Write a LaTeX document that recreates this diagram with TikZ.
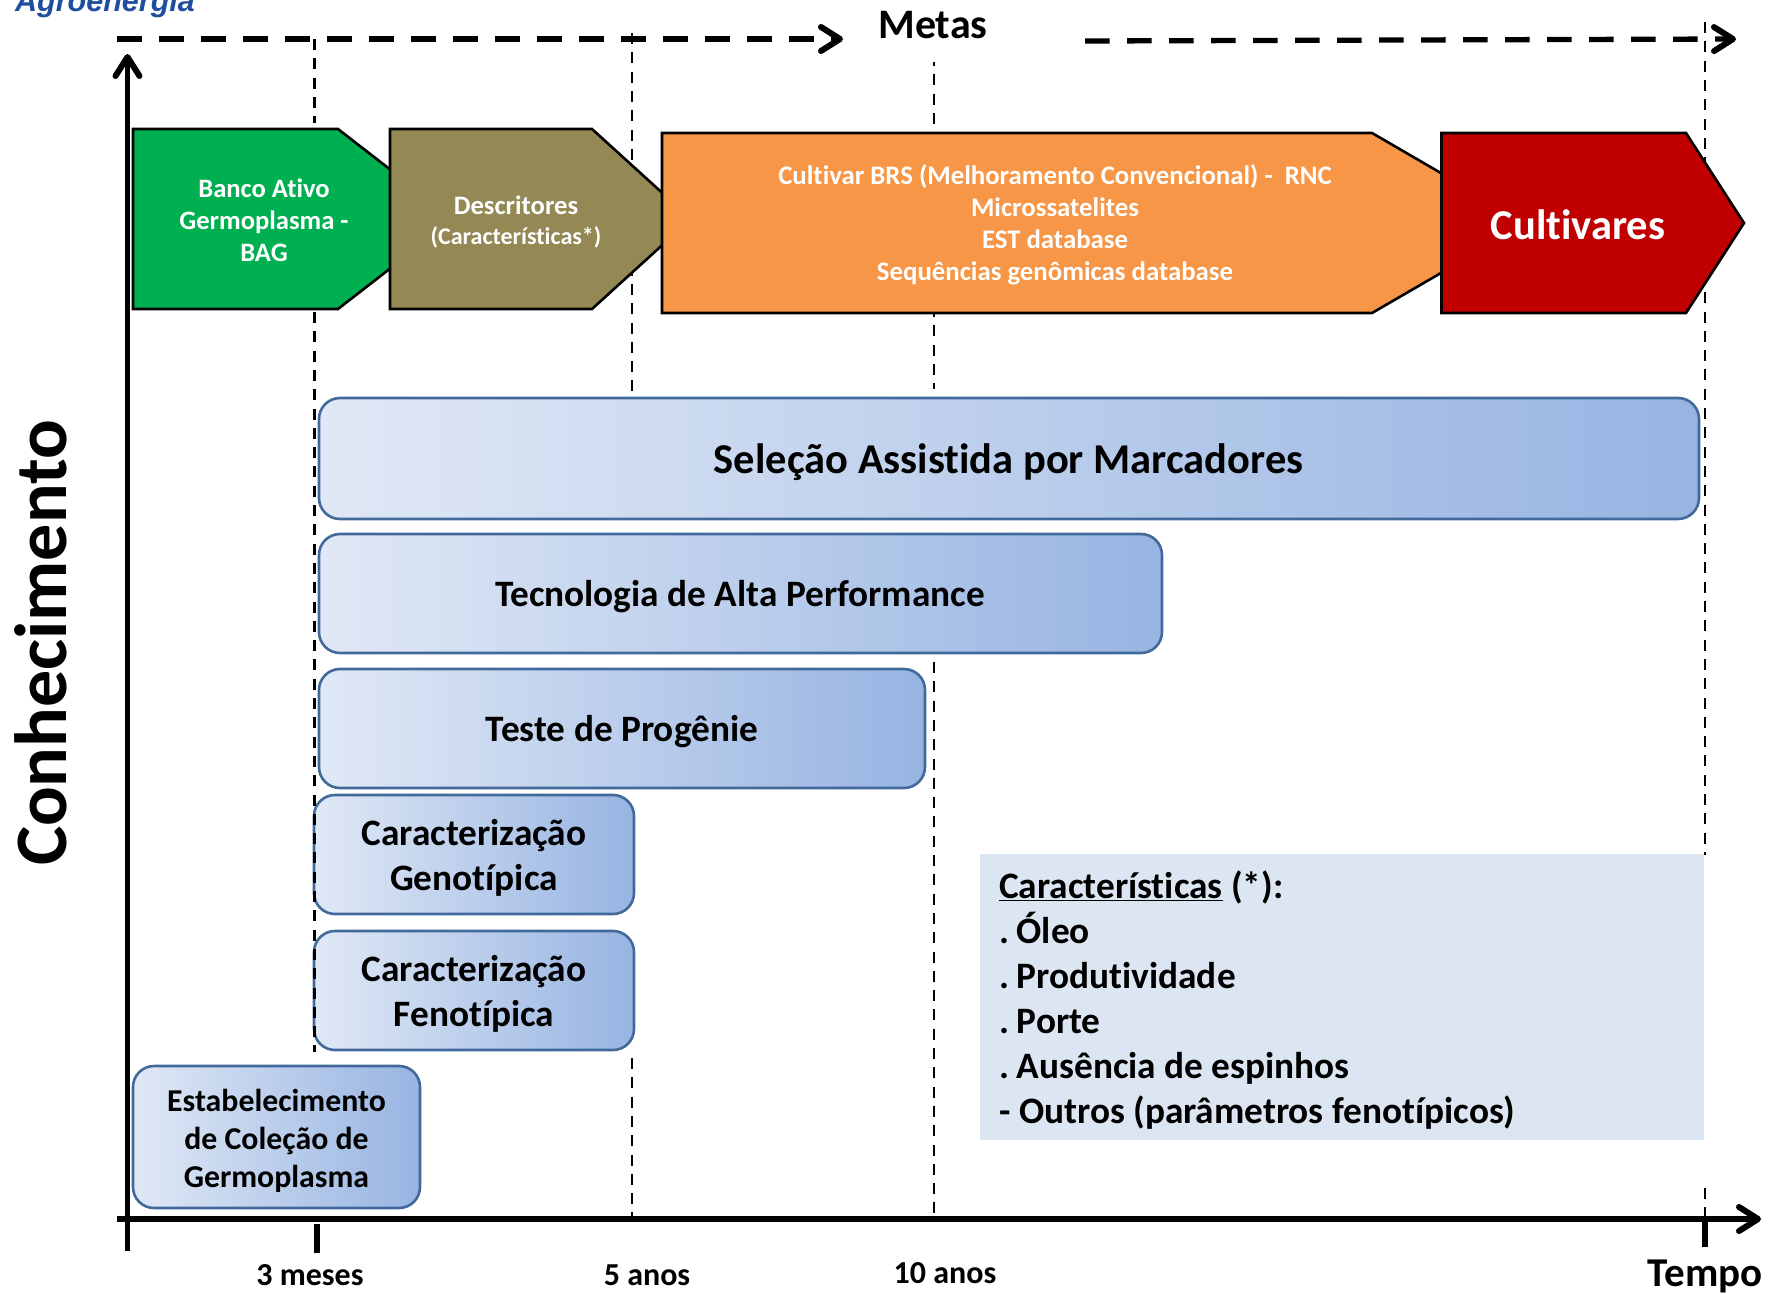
\documentclass[tikz,border=0pt]{standalone}
\usepackage{fontspec}
\setmainfont[Ligatures=NoCommon]{Carlito}
\newfontfamily\logofont{Liberation Sans}
\usetikzlibrary{arrows.meta,shadings}
\definecolor{bandborder}{HTML}{41699B}
\definecolor{gradL}{HTML}{E0E8F5}
\definecolor{gradR}{HTML}{97B4E2}
\definecolor{notefill}{HTML}{DCE6F2}
\definecolor{logoblue}{HTML}{1F4E9E}
\definecolor{penGreen}{RGB}{0,176,80}
\definecolor{penOlive}{RGB}{148,137,84}
\definecolor{penOrange}{RGB}{247,150,70}
\definecolor{penRed}{RGB}{192,0,0}
\newcommand{\fs}[2]{\fontsize{#1}{#2}\selectfont\bfseries}
\newcommand{\dotsp}{.\kern-0.8pt\ }
\tikzset{
  x=1pt,y=-1pt,
  vdash/.style={black,line width=2.6pt,dash pattern=on 11pt off 8.3pt},
  hdash/.style={black,line width=5.3pt,dash pattern=on 24.5pt off 17.5pt,-{Straight Barb[length=19pt,width=24pt,line width=6pt,round]}},
  axisline/.style={black,line width=5.5pt},
  axisarrow/.style={axisline,-{Straight Barb[length=19pt,width=24pt,line width=6pt,round]}},
  penta/.style={draw=black,line width=2.6pt,line join=miter},
  band/.style={draw=bandborder,line width=2.6pt,rounded corners=21pt,left color=gradL,right color=gradR,shading angle=90},
  bandtext/.style={align=center,text=black,inner sep=0pt},
  pentatext/.style={align=center,text=white,inner sep=0pt},
  ticklabel/.style={text=black,inner sep=0pt},
}
\begin{document}
\begin{tikzpicture}
\useasboundingbox (0,0) rectangle (1769,1293);
% logo remnant
\node[inner sep=0pt,anchor=base west,text=logoblue] (logo) at (15,11) {\logofont\fontsize{30.5}{34}\selectfont\bfseries\itshape Agroenergia};
% guide lines
\coordinate (g1a) at (314.5,39); \coordinate (g1b) at (314.5,123);
\coordinate (g1c) at (314.5,312); \coordinate (g1d) at (314.5,1052);
\coordinate (g2a) at (632,33); \coordinate (g2b) at (632,398);
\coordinate (g2c) at (632,1058); \coordinate (g2d) at (632,1217);
\coordinate (g3a) at (934,62); \coordinate (g3b) at (934,389);
\coordinate (g3c) at (934,662); \coordinate (g3d) at (934,1217);
\coordinate (g4a) at (1705,22); \coordinate (g4b) at (1705,855);
\coordinate (g4c) at (1705,1188); \coordinate (g4d) at (1705,1217);
\draw[vdash] (g2a) -- (g2b);
\draw[vdash] (g2c) -- (g2d);
\draw[vdash,dash phase=7pt] (g3a) -- (g3b);
\draw[vdash] (g3c) -- (g3d);
\draw[vdash] (g4a) -- (g4b);
\draw[vdash] (g4c) -- (g4d);
% axes
\coordinate (xs) at (117,1219); \coordinate (xe) at (1761,1219);
\coordinate (ys) at (127.5,1251); \coordinate (ye) at (127.5,54);
\draw[axisarrow] (ys) -- (ye);
\draw[axisarrow] (xs) -- (xe);
\coordinate (t1a) at (317,1224); \coordinate (t1b) at (317,1253);
\coordinate (t2a) at (1705,1216); \coordinate (t2b) at (1705,1247);
\draw[axisline] (t1a) -- (t1b);
\draw[axisline] (t2a) -- (t2b);
% top dashed arrows
\coordinate (m1a) at (117,39); \coordinate (m1b) at (843,39);
\coordinate (m2a) at (1085,41); \coordinate (m2b) at (1736,39);
\draw[hdash] (m1a) -- (m1b);
\draw[hdash] (m2a) -- (m2b);
\node[ticklabel,font=\fs{42}{50}] (metas) at (933,25) {Metas};
% pentagons
\draw[penta,fill=penGreen] (133,129) -- (338,129) -- (454,219) -- (338,309) -- (133,309) -- cycle;
\draw[penta,fill=penOlive] (390,129) -- (592,129) -- (691,219) -- (592,309) -- (390,309) -- cycle;
\draw[penta,fill=penOrange] (662,133) -- (1372,133) -- (1527,223) -- (1372,313) -- (662,313) -- cycle;
\draw[penta,fill=penRed] (1441.5,133) -- (1686,133) -- (1744,223) -- (1686,313) -- (1441.5,313) -- cycle;
\node[pentatext,font=\fs{26.6}{32}] (bag) at (264,220) {Banco Ativo\\Germoplasma -\\BAG};
\node[pentatext,font=\fs{26.6}{30}] (desc) at (516,222) {Descritores\\{\fontsize{24}{30}\selectfont (Características*)}};
\node[pentatext,font=\fs{26.8}{32}] (conv) at (1055,225) {Cultivar BRS (Melhoramento Convencional) -\ \ RNC\\Microssatelites\\EST database\\Sequências genômicas database};
\node[pentatext,font=\fs{42.5}{50}] (cult) at (1578,225) {Cultivares};
% bands
\node[band,minimum width=1380pt,minimum height=121pt] (sel) at (1009,458.5) {};
\node[band,minimum width=843pt,minimum height=119pt] (tec) at (740.5,593.5) {};
\node[band,minimum width=606pt,minimum height=119pt] (tes) at (622,728.5) {};
\node[band,minimum width=320pt,minimum height=119pt] (gen) at (474,854.5) {};
\node[band,minimum width=320pt,minimum height=119pt] (fen) at (474,990.5) {};
\node[band,minimum width=287pt,minimum height=142pt] (est) at (276.5,1137) {};
\draw[vdash] (g1a) -- (g1b);
\draw[vdash] (g1c) -- (g1d);
\node[bandtext,font=\fs{42.5}{50}] (selT) at (1008.5,462) {Seleção Assistida por Marcadores};
\node[bandtext,font=\fs{37.3}{45}] (tecT) at (740,597) {Tecnologia de Alta Performance};
\node[bandtext,font=\fs{37.3}{45}] (tesT) at (622,732) {Teste de Progênie};
\node[bandtext,font=\fs{37.3}{45}] (genT) at (474,858) {Caracterização\\Genotípica};
\node[bandtext,font=\fs{37.3}{45}] (fenT) at (474,994) {Caracterização\\Fenotípica};
\node[bandtext,font=\fs{31.8}{38}] (estT) at (276.5,1141) {Estabelecimento\\de Coleção de\\Germoplasma};
% note
\node[fill=notefill,minimum width=724pt,minimum height=286pt,inner sep=0pt] (note) at (1342,997) {};
\node[anchor=west,align=left,inner sep=0pt,text=black,font=\fs{37.3}{45}] (notetext) at (999,1000) {\underline{Características} (*):\\\dotsp Óleo\\\dotsp Produtividade\\\dotsp Porte\\\dotsp Ausência de espinhos\\- Outros (parâmetros fenotípicos)};
% labels
\node[rotate=90,ticklabel,font=\fs{74}{80}] (conh) at (41,643) {Conhecimento};
\node[ticklabel,font=\fs{32}{38}] (l1) at (310,1275) {3 meses};
\node[ticklabel,font=\fs{32}{38}] (l2) at (647,1275) {5 anos};
\node[ticklabel,font=\fs{32}{38}] (l3) at (945,1273) {10 anos};
\node[ticklabel,font=\fs{41}{45}] (l4) at (1705,1276) {Tempo};
\end{tikzpicture}
\end{document}
